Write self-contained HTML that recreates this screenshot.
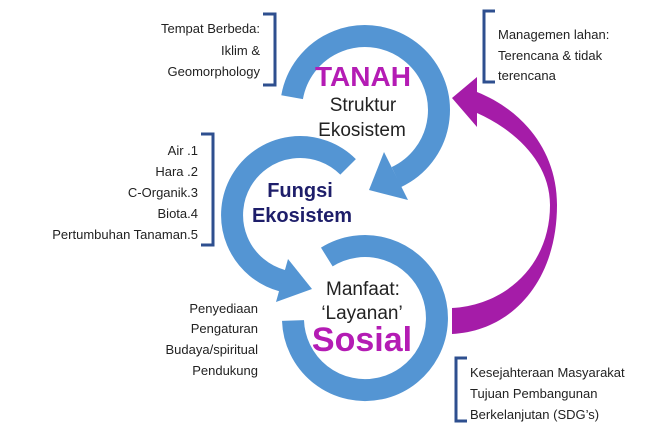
<!DOCTYPE html>
<html><head><meta charset="utf-8"><style>
body{margin:0;background:#fff}
svg{display:block}
text{font-family:"Liberation Sans",sans-serif}
</style></head><body>
<svg width="660" height="437" viewBox="0 0 660 437">
<g fill="none" stroke="#5495d3" stroke-width="22">
<!-- top arc: center 365,110 r74 from 190deg cw to 65deg -->
<path d="M292.1,97.2 A74,74 0 1 1 396.3,177.1"/>
<!-- middle arc: center 300,215 r68 from -45 ccw to 105 -->
<path d="M348.1,166.9 A68,68 0 1 0 282.4,280.7"/>
<!-- bottom arc: center 365,318 r72 from -122 cw to 178 -->
<path d="M326.8,257 A72,72 0 1 1 293,320.5"/>
</g>
<g fill="#5495d3">
<polygon points="408,200 384,152 369,190"/>
<polygon points="276,302 288,259 312,289"/>
</g>
<path fill="#a51ca8" d="M452,334 C512,331 557,281 557,205 C557,150 522,110 477,92 L477,77 L452,98 L477,127 L477,113 C515,130 550,162 550,205 C550,265 506,305 452,308 Z"/>
<g fill="none" stroke="#2e4f8f" stroke-width="3">
<polyline points="263,14 275,14 275,85 263,85"/>
<polyline points="201,134 213,134 213,245 201,245"/>
<polyline points="495,11 484,11 484,82 495,82"/>
<polyline points="467,358 456,358 456,421 467,421"/>
</g>
<g font-size="13" fill="#222" text-anchor="end">
<text x="260" y="33">Tempat Berbeda:</text>
<text x="260" y="55">Iklim &amp;</text>
<text x="260" y="76">Geomorphology</text>
<text x="198" y="155">Air .1</text>
<text x="198" y="176">Hara .2</text>
<text x="198" y="197">C-Organik.3</text>
<text x="198" y="218">Biota.4</text>
<text x="198" y="239">Pertumbuhan Tanaman.5</text>
<text x="258" y="313">Penyediaan</text>
<text x="258" y="333">Pengaturan</text>
<text x="258" y="354">Budaya/spiritual</text>
<text x="258" y="375">Pendukung</text>
</g>
<g font-size="13" fill="#222">
<text x="498" y="39">Managemen lahan:</text>
<text x="498" y="60">Terencana &amp; tidak</text>
<text x="498" y="80">terencana</text>
<text x="470" y="377">Kesejahteraan Masyarakat</text>
<text x="470" y="398">Tujuan Pembangunan</text>
<text x="470" y="419">Berkelanjutan (SDG’s)</text>
</g>
<g text-anchor="middle">
<text x="363" y="86" font-size="28" font-weight="bold" fill="#b41cb4">TANAH</text>
<text x="363" y="111" font-size="19" fill="#222">Struktur</text>
<text x="362" y="136" font-size="19" fill="#222">Ekosistem</text>
<text x="300" y="197" font-size="20" font-weight="bold" fill="#1e1e6a">Fungsi</text>
<text x="302" y="222" font-size="20" font-weight="bold" fill="#1e1e6a">Ekosistem</text>
<text x="363" y="295" font-size="19" fill="#222">Manfaat:</text>
<text x="362" y="319" font-size="19" fill="#222">‘Layanan’</text>
<text x="362" y="351" font-size="34" font-weight="bold" fill="#b41cb4">Sosial</text>
</g>
</svg>
</body></html>
